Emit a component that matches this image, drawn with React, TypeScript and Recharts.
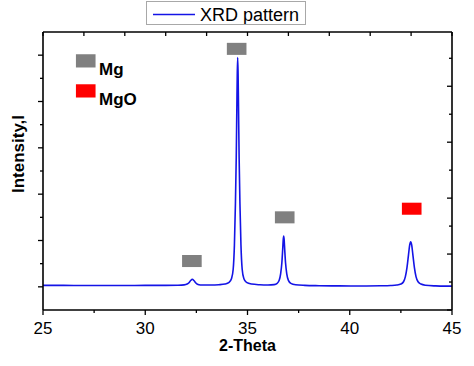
import React from 'react';
import { LineChart, Line, XAxis, YAxis, ReferenceArea, Legend } from 'recharts';

// ---- data ----
const twoTheta = [
  25.0, 26.0, 27.0, 28.0, 29.0, 30.0, 31.0, 31.6, 31.9, 32.05, 32.15, 32.22, 32.3, 32.38, 32.45, 32.55, 32.7,
  33.2, 33.6, 33.9, 34.1, 34.22, 34.3, 34.36, 34.41, 34.45, 34.48, 34.5, 34.52, 34.54, 34.56, 34.59, 34.63,
  34.68, 34.74, 34.82, 34.95, 35.2, 35.6, 36.0, 36.3, 36.45, 36.55, 36.62, 36.68, 36.72, 36.75, 36.77, 36.79,
  36.82, 36.86, 36.92, 37.0, 37.12, 37.35, 37.8, 38.5, 39.5, 40.5, 41.5, 42.0, 42.3, 42.5, 42.63, 42.72, 42.8,
  42.87, 42.93, 42.98, 43.03, 43.09, 43.16, 43.24, 43.34, 43.48, 43.7, 44.2, 44.6, 45.0,
];
const intensity = [
  32, 31, 30, 30, 30, 31, 32, 35, 42, 60, 95, 135, 165, 135, 95, 55, 40,
  38, 45, 60, 95, 180, 380, 900, 1800, 2800, 3900, 4600, 4950, 4600, 3900, 2800, 1800,
  900, 380, 180, 95, 60, 45, 40, 48, 75, 140, 280, 520, 800, 1030, 1097, 1030,
  800, 520, 280, 140, 75, 45, 32, 25, 20, 18, 22, 28, 38, 60, 110, 220, 420,
  680, 900, 974, 900, 680, 420, 220, 110, 60, 35, 20, 15, 15,
];

const seriesName = 'XRD pattern';
const xTitle = '2-Theta';
const yTitle = 'Intensity,I';

const bottomTicks = [25, 27.5, 30, 32.5, 35, 37.5, 40, 42.5, 45];
const topTicks = [25, 27, 29, 31, 33, 35, 37, 39, 41, 43, 45];
const leftTicks = [0, 500, 1000, 1500, 2000, 2500, 3000, 3500, 4000, 4500, 5000];
const rightTicks = [0, 0.5, 1, 1.5, 2, 2.5, 3, 3.5, 4, 4.5];

// phase markers: [peak position, marker level]
const mgMarkers = [
  [32.28, 557],
  [34.47, 5136],
  [36.82, 1500],
];
const mgoMarkers = [[43.03, 1686]];
const phaseLegend = [
  { name: 'Mg', x: 27.09, y: 4877, color: '#808080' },
  { name: 'MgO', x: 27.09, y: 4229, color: '#ff0000' },
];

const data = twoTheta.map((x, i) => ({ x, y: intensity[i] }));

const FONT = '"Liberation Sans", Arial, Helvetica, sans-serif';
const HALF_W = 0.48;
const HALF_H = 130;

const BottomTick = (props: any) => {
  const { x, y, payload } = props;
  const v = payload.value;
  const major = v % 5 === 0;
  return (
    <g>
      <line x1={x} x2={x} y1={y} y2={y + (major ? 5 : 3)} stroke="#000" strokeWidth={1.3} />
      {major && (
        <text x={x} y={y + 23.5} textAnchor="middle" fontSize={17} fontFamily={FONT} fill="#000">
          {v}
        </text>
      )}
    </g>
  );
};

const TopTick = (props: any) => {
  const { x, y } = props;
  return <line x1={x} x2={x} y1={y} y2={y + 4} stroke="#000" strokeWidth={1.3} />;
};

const LeftTick = (props: any) => {
  const { x, y, payload } = props;
  const major = payload.value % 1000 === 0;
  return <line x1={x} x2={x - (major ? 5 : 3)} y1={y} y2={y} stroke="#000" strokeWidth={1.3} />;
};

const RightTick = (props: any) => {
  const { x, y, payload } = props;
  const major = payload.value % 1 === 0;
  return <line x1={x} x2={x - (major ? 5 : 3)} y1={y} y2={y} stroke="#000" strokeWidth={1.3} />;
};

const XTitle = () => (
  <text x={247.5} y={351} textAnchor="middle" fontSize={16} fontWeight="bold" fontFamily={FONT} fill="#000">
    {xTitle}
  </text>
);

const YTitle = () => (
  <text
    x={24}
    y={154}
    transform="rotate(-90 24 154)"
    textAnchor="middle"
    fontSize={17}
    fontWeight="bold"
    fontFamily={FONT}
    fill="#000"
  >
    {yTitle}
  </text>
);

const PhaseLabel = (props: any) => {
  const vb = props.viewBox || {};
  const { text } = props;
  return (
    <text
      x={vb.x + vb.width + 3.5}
      y={vb.y + vb.height + 7.5}
      fontSize={17}
      fontWeight="bold"
      fontFamily={FONT}
      fill="#000"
    >
      {text}
    </text>
  );
};

const LegendBox = () => (
  <div style={{ width: 158, height: 22, border: '1px solid #a8a8a8', background: '#fff' }}>
    <svg width={158} height={22} style={{ display: 'block' }}>
      <line x1={6} x2={48} y1={12.5} y2={12.5} stroke="#1414e6" strokeWidth={1.5} />
      <text x={53} y={19} fontSize={18} fontFamily={FONT} fill="#000">
        {seriesName}
      </text>
    </svg>
  </div>
);

export default function App() {
  return (
    <div style={{ position: 'absolute', left: 0, top: 0, width: 474, height: 366, background: '#fff' }}>
      <LineChart width={474} height={366} data={data} margin={{ top: 22, right: 12, bottom: 26, left: 13 }}>
        <XAxis
          xAxisId="b"
          dataKey="x"
          type="number"
          domain={[25, 45]}
          ticks={bottomTicks}
          interval={0}
          height={30}
          tickSize={0}
          tickMargin={0}
          tickLine={false}
          tick={<BottomTick />}
          axisLine={{ stroke: '#000', strokeWidth: 1.6 }}
          allowDataOverflow
          label={{ content: () => <XTitle /> }}
        />
        <XAxis
          xAxisId="t"
          orientation="top"
          dataKey="x"
          type="number"
          domain={[25, 45]}
          ticks={topTicks}
          interval={0}
          height={10}
          tickSize={0}
          tickMargin={0}
          tickLine={false}
          tick={<TopTick />}
          axisLine={{ stroke: '#000', strokeWidth: 1.6 }}
          allowDataOverflow
        />
        <YAxis
          yAxisId="l"
          type="number"
          domain={[-500, 5500]}
          ticks={leftTicks}
          interval={0}
          width={30}
          tickSize={0}
          tickMargin={0}
          tickLine={false}
          tick={<LeftTick />}
          axisLine={{ stroke: '#000', strokeWidth: 1.6 }}
          allowDataOverflow
          label={{ content: () => <YTitle /> }}
        />
        <YAxis
          yAxisId="r"
          orientation="right"
          type="number"
          domain={[0, 4.97]}
          ticks={rightTicks}
          interval={0}
          width={10}
          tickSize={0}
          tickMargin={0}
          tickLine={false}
          tick={<RightTick />}
          axisLine={{ stroke: '#000', strokeWidth: 1.6 }}
          allowDataOverflow
        />
        <Legend
          layout="horizontal"
          verticalAlign="middle"
          align="center"
          wrapperStyle={{ left: 146, top: 1, width: 160, height: 24 }}
          content={() => <LegendBox />}
        />
        <Line
          xAxisId="t"
          yAxisId="r"
          dataKey="y"
          stroke="none"
          dot={false}
          activeDot={false}
          legendType="none"
          isAnimationActive={false}
        />
        <Line
          xAxisId="b"
          yAxisId="l"
          type="monotone"
          dataKey="y"
          name={seriesName}
          stroke="#1414e6"
          strokeWidth={1.6}
          dot={false}
          activeDot={false}
          isAnimationActive={false}
        />
        {mgMarkers.map(([c, lv], i) => (
          <ReferenceArea
            key={'mg' + i}
            xAxisId="b"
            yAxisId="l"
            x1={c - HALF_W}
            x2={c + HALF_W}
            y1={lv - HALF_H}
            y2={lv + HALF_H}
            fill="#808080"
            fillOpacity={1}
            stroke="none"
            ifOverflow="visible"
          />
        ))}
        {mgoMarkers.map(([c, lv], i) => (
          <ReferenceArea
            key={'mgo' + i}
            xAxisId="b"
            yAxisId="l"
            x1={c - HALF_W}
            x2={c + HALF_W}
            y1={lv - HALF_H}
            y2={lv + HALF_H}
            fill="#ff0000"
            fillOpacity={1}
            stroke="none"
            ifOverflow="visible"
          />
        ))}
        {phaseLegend.map((p) => (
          <ReferenceArea
            key={p.name}
            xAxisId="b"
            yAxisId="l"
            x1={p.x - HALF_W}
            x2={p.x + HALF_W}
            y1={p.y - HALF_H * 1.1}
            y2={p.y + HALF_H * 1.1}
            fill={p.color}
            fillOpacity={1}
            stroke="none"
            ifOverflow="visible"
            label={<PhaseLabel text={p.name} />}
          />
        ))}
      </LineChart>
    </div>
  );
}
